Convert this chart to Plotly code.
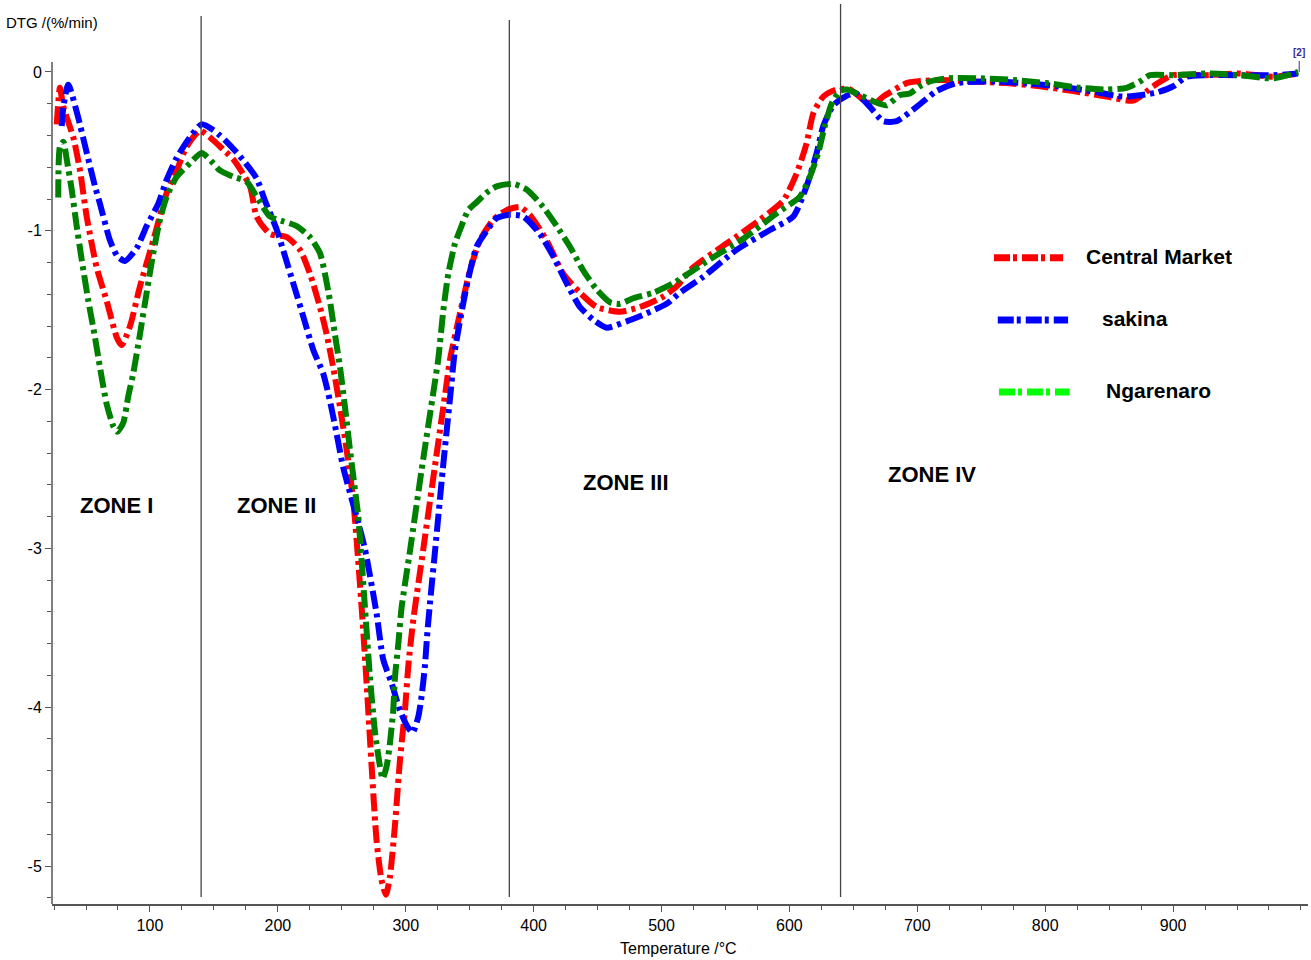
import numpy as np
import plotly.graph_objects as go

# ---------------- data ----------------
cm_T = [27.1, 29.6, 32.3, 40.0, 45.3, 50.5, 58.3, 66.1, 74.0, 77.9, 84.4, 92.2, 102.6, 113.1, 120.9, 128.7,
        139.1, 149.5, 157.4, 165.2, 178.2, 183.4, 193.8, 206.9, 217.3, 225.1, 232.9, 238.1, 243.3, 248.6,
        253.8, 259.0, 265.5, 269.4, 273.3, 277.2, 281.1, 284.5, 287.6, 291.5, 295.5, 299.4, 302.0, 305.9,
        313.8, 322.5, 331.3, 334.6, 342.4, 350.2, 358.0, 368.4, 378.9, 389.3, 397.1, 410.1, 423.1, 436.2,
        449.3, 467.5, 483.1, 501.3, 511.8, 524.8, 550.9, 577.0, 595.2, 605.6, 613.4, 618.7, 626.5, 636.9,
        647.3, 660.4, 668.2, 673.3, 691.7, 699.5, 717.7, 743.8, 769.8, 795.9, 821.9, 848.0, 868.8, 884.5,
        892.3, 900.1, 926.0, 952.0, 978.3, 997.8]
cm_D = [-0.33, -0.10, -0.22, -0.41, -0.62, -0.91, -1.23, -1.44, -1.67, -1.72, -1.60, -1.35, -1.06, -0.76, -0.62, -0.47,
        -0.37, -0.43, -0.49, -0.55, -0.72, -0.91, -1.02, -1.04, -1.12, -1.27, -1.48, -1.65, -1.86, -2.11,
        -2.38, -2.70, -3.37, -3.85, -4.37, -4.84, -5.09, -5.18, -5.07, -4.75, -4.33, -4.02, -3.74, -3.45,
        -3.00, -2.50, -2.00, -1.81, -1.52, -1.25, -1.06, -0.93, -0.87, -0.85, -0.90, -1.06, -1.27, -1.39,
        -1.48, -1.51, -1.48, -1.415, -1.35, -1.23, -1.08, -0.93, -0.81, -0.64, -0.45, -0.26, -0.155, -0.11,
        -0.11, -0.19, -0.19, -0.155, -0.07, -0.06, -0.05, -0.06, -0.07, -0.09, -0.12, -0.155, -0.18, -0.09,
        -0.05, -0.02, -0.02, -0.01, -0.03, -0.01]

sk_T = [31.0, 32.3, 36.1, 44.0, 47.9, 57.0, 60.9, 68.7, 74.5, 80.5, 89.6, 97.4, 106.5, 113.0, 120.9, 131.3,
        140.4, 149.5, 154.7, 160.0, 170.3, 183.4, 189.9, 199.0, 205.6, 212.0, 219.9, 227.7, 235.5, 240.7,
        246.0, 251.1, 256.4, 261.6, 268.0, 277.2, 282.4, 289.0, 295.5, 301.2, 305.4, 309.8, 312.4, 315.0,
        316.9, 318.9, 323.1, 329.0, 335.3, 338.5, 347.6, 355.4, 363.3, 371.1, 380.1, 391.9, 404.9, 415.3,
        425.8, 436.2, 446.6, 457.1, 472.7, 488.3, 504.0, 514.4, 532.6, 558.7, 584.8, 603.0, 613.4, 621.3,
        626.5, 634.3, 644.8, 652.0, 663.0, 673.3, 683.8, 699.4, 715.0, 730.7, 756.7, 782.8, 808.9, 834.9,
        861.0, 887.0, 900.1, 910.6, 926.0, 952.0, 978.3, 997.8]
sk_D = [-0.34, -0.22, -0.08, -0.29, -0.42, -0.72, -0.83, -1.06, -1.16, -1.19, -1.11, -0.97, -0.83, -0.68, -0.54, -0.41,
        -0.33, -0.365, -0.40, -0.44, -0.53, -0.67, -0.81, -0.99, -1.16, -1.33, -1.54, -1.75, -1.90, -2.07,
        -2.28, -2.49, -2.65, -2.80, -3.00, -3.41, -3.70, -3.85, -4.02, -4.12, -4.16, -4.06, -3.93, -3.74,
        -3.53, -3.35, -3.00, -2.50, -2.00, -1.75, -1.35, -1.10, -1.00, -0.92, -0.90, -0.91, -1.02, -1.16,
        -1.33, -1.48, -1.56, -1.61, -1.57, -1.52, -1.46, -1.39, -1.29, -1.12, -0.995, -0.91, -0.72, -0.51,
        -0.34, -0.21, -0.15, -0.135, -0.22, -0.31, -0.31, -0.22, -0.12, -0.07, -0.06, -0.07, -0.09, -0.12,
        -0.155, -0.13, -0.09, -0.03, -0.02, -0.02, -0.02, -0.01]

ng_T = [28.3, 29.6, 32.3, 34.9, 38.8, 42.7, 46.6, 51.8, 57.0, 60.9, 66.1, 71.3, 74.5, 79.1, 83.1, 86.9,
        92.2, 97.4, 102.6, 107.8, 113.1, 120.9, 131.3, 140.4, 149.5, 154.7, 165.2, 175.6, 183.4, 193.8,
        204.2, 214.7, 225.1, 232.9, 236.8, 240.7, 244.6, 248.6, 252.5, 256.4, 260.3, 262.9, 268.1, 272.0,
        276.0, 279.8, 281.9, 285.1, 287.6, 290.2, 291.6, 294.2, 296.8, 303.6, 312.5, 321.9, 325.4, 329.4,
        333.3, 338.5, 342.4, 348.9, 355.4, 363.3, 371.1, 384.1, 394.5, 407.5, 418.0, 428.4, 438.8, 449.3,
        459.7, 467.5, 477.9, 493.5, 509.2, 537.8, 563.9, 590.0, 608.2, 616.0, 622.5, 627.7, 633.0, 639.5,
        644.8, 655.2, 665.6, 676.0, 686.4, 694.2, 702.0, 709.8, 722.8, 748.9, 775.0, 801.1, 827.1, 848.0,
        863.6, 874.0, 881.9, 900.0, 926.0, 952.0, 978.3, 997.8]
ng_D = [-0.79, -0.47, -0.44, -0.55, -0.74, -0.97, -1.18, -1.44, -1.67, -1.86, -2.09, -2.23, -2.265, -2.21, -2.04, -1.90,
        -1.65, -1.39, -1.14, -0.93, -0.785, -0.66, -0.575, -0.51, -0.575, -0.62, -0.66, -0.69, -0.785, -0.91,
        -0.94, -0.97, -1.04, -1.14, -1.27, -1.44, -1.65, -1.86, -2.11, -2.38, -2.63, -2.80, -3.37, -3.81,
        -4.16, -4.37, -4.45, -4.37, -4.23, -4.02, -3.81, -3.60, -3.37, -3.00, -2.50, -2.00, -1.81, -1.50,
        -1.27, -1.08, -0.995, -0.87, -0.82, -0.76, -0.72, -0.705, -0.74, -0.85, -0.97, -1.10, -1.25, -1.37,
        -1.45, -1.46, -1.425, -1.39, -1.33, -1.18, -1.05, -0.89, -0.785, -0.66, -0.51, -0.34, -0.20, -0.12,
        -0.11, -0.145, -0.185, -0.21, -0.145, -0.135, -0.09, -0.06, -0.04, -0.04, -0.05, -0.07, -0.10, -0.11,
        -0.10, -0.06, -0.02, -0.02, -0.01, -0.02, -0.04, 0.00]

series_names = ["Central Market", "sakina", "Ngarenaro"]
zone_bounds = [140, 381, 640]
zone_labels = ["ZONE I", "ZONE II", "ZONE III", "ZONE IV"]
x_ticks = [100, 200, 300, 400, 500, 600, 700, 800, 900]
y_ticks = [0, -1, -2, -3, -4, -5]

# ---------------- figure ----------------
NARROW = "Liberation Sans Narrow, Arial Narrow, Liberation Sans, Arial, sans-serif"
DASH = "18px,5px,4px,5px"

fig = go.Figure()
for T, D, name, col in [(cm_T, cm_D, series_names[0], "#ff0000"),
                        (sk_T, sk_D, series_names[1], "#0000ff"),
                        (ng_T, ng_D, series_names[2], "#008000")]:
    fig.add_trace(go.Scatter(x=T, y=D, mode="lines", name=name, showlegend=False,
                             line=dict(color=col, width=6, dash=DASH, shape="spline", smoothing=0.6)))

X0, X1 = 23.4, 1005.5
Y0, Y1 = -5.239, 0.428

shapes = []
# zone separators
for xb, ytop in zip(zone_bounds, [0.353, 0.327, 0.428]):
    shapes.append(dict(type="line", xref="x", yref="y", x0=xb, x1=xb, y0=-5.195, y1=ytop,
                       line=dict(color="#444444", width=1.3)))
# left axis line
shapes.append(dict(type="line", xref="paper", yref="y", x0=0, x1=0, y0=Y0, y1=0.063,
                   line=dict(color="#555555", width=1.5)))
# "[2]" marker stem
shapes.append(dict(type="line", xref="paper", yref="y", x0=0.993, x1=0.993, y0=0.0, y1=0.07,
                   line=dict(color="#3b2a8a", width=1)))

# custom legend
leg = [("#ff0000", 0.750, 0.805, 0.718, series_names[0], 0.881, 0.720),
       ("#0000ff", 0.753, 0.809, 0.649, series_names[1], 0.862, 0.651),
       ("#00ff00", 0.754, 0.810, 0.569, series_names[2], 0.881, 0.571)]
annotations = []
for col, lx0, lx1, ly, txt, tx, ty in leg:
    shapes.append(dict(type="line", xref="paper", yref="paper", x0=lx0, x1=lx1, y0=ly, y1=ly,
                       line=dict(color=col, width=7, dash="16px,3px,4px,5px")))
    annotations.append(dict(xref="paper", yref="paper", x=tx, y=ty, text="<b>%s</b>" % txt,
                            showarrow=False, xanchor="center", yanchor="middle",
                            font=dict(family=NARROW, size=21, color="#000000")))

# zone labels
for txt, zx, zy in zip(zone_labels, [0.051, 0.179, 0.457, 0.701], [0.443, 0.443, 0.468, 0.477]):
    annotations.append(dict(xref="paper", yref="paper", x=zx, y=zy, text="<b>%s</b>" % txt,
                            showarrow=False, xanchor="center", yanchor="middle",
                            font=dict(family=NARROW, size=22, color="#000000")))

annotations.append(dict(xref="paper", yref="paper", x=0.499, y=-0.049, text="Temperature /°C",
                        showarrow=False, xanchor="center", yanchor="middle",
                        font=dict(family=NARROW, size=16, color="#000000")))
annotations.append(dict(xref="paper", yref="paper", x=0.0, y=0.980, text="DTG /(%/min)",
                        showarrow=False, xanchor="center", yanchor="middle",
                        font=dict(family=NARROW, size=15, color="#000000")))
annotations.append(dict(xref="paper", yref="paper", x=0.993, y=0.946, text="<b>[2]</b>",
                        showarrow=False, xanchor="center", yanchor="middle",
                        font=dict(family=NARROW, size=10, color="#3b2a8a")))

fig.update_layout(
    width=1311, height=960,
    margin=dict(l=52, r=3, t=4, b=56),
    paper_bgcolor="white", plot_bgcolor="white",
    showlegend=False,
    shapes=shapes, annotations=annotations,
    xaxis=dict(range=[X0, X1], showgrid=False, zeroline=False, automargin=False,
               showline=True, linecolor="#555555", linewidth=1.5,
               tickmode="array", tickvals=x_ticks, ticktext=[str(v) for v in x_ticks],
               ticks="outside", ticklen=6, tickcolor="#555555", tickwidth=1.3,
               tickfont=dict(family=NARROW, size=16, color="#000000"),
               minor=dict(tickmode="array", tickvals=list(np.arange(25, 1001, 25)),
                          ticks="outside", ticklen=4, tickcolor="#555555", tickwidth=1.2)),
    yaxis=dict(range=[Y0, Y1], showgrid=False, zeroline=False, showline=False, automargin=False,
               tickmode="array", tickvals=y_ticks, ticktext=[str(v) for v in y_ticks],
               ticks="outside", ticklen=6, tickcolor="#555555", tickwidth=1.3,
               tickfont=dict(family=NARROW, size=16, color="#000000"),
               minor=dict(tickmode="array", tickvals=list(np.round(np.arange(-5.2, 0.01, 0.2), 2)),
                          ticks="outside", ticklen=4, tickcolor="#555555", tickwidth=1.2)),
)

fig.write_html("out.html", config={"displayModeBar": False},
               post_script="document.body.style.margin='0';document.body.style.padding='0';")
